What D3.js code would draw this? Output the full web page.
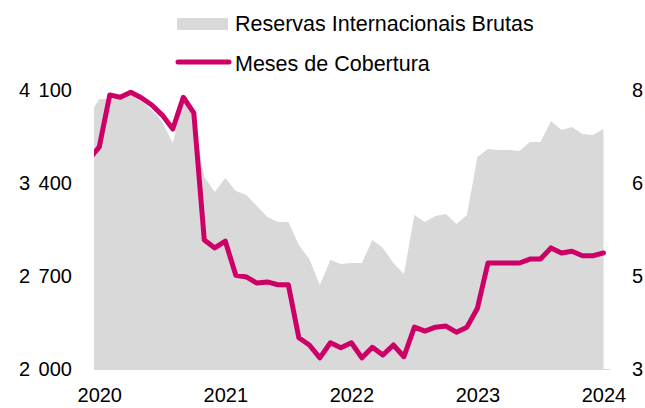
<!DOCTYPE html>
<html>
<head>
<meta charset="utf-8">
<script src="https://cdn.jsdelivr.net/npm/d3@7"></script>
<style>
  html, body { margin: 0; padding: 0; background: #fff; }
  svg { display: block; }
  text { font-family: "Liberation Sans", Arial, sans-serif; fill: #000; }
</style>
</head>
<body>
<div id="chart"></div>
<script>
// Months: Dec 2019 (partly clipped) through Jan 2024
const months = d3.timeMonth.range(new Date(2019, 11, 1), new Date(2024, 1, 1)).map(d3.timeFormat("%Y-%m"));

// Reservas Internacionais Brutas (left axis)
const reservas = [3904, 4032, 4032, 4030, 4062, 4017, 3950, 3859, 3701, 4025, 3889,
  3445, 3332, 3438, 3340, 3310, 3227, 3144, 3106, 3106, 2933, 2828, 2632,
  2820, 2790, 2798, 2798, 2971, 2911, 2798, 2715, 3159, 3106, 3152, 3167, 3091, 3159,
  3596, 3656, 3648, 3648, 3641, 3709, 3709, 3867, 3799, 3822, 3769, 3761, 3806];

// Meses de Cobertura (right axis)
const cobertura = [6.75, 6.98, 7.91, 7.87, 7.96, 7.86, 7.73, 7.55, 7.30, 7.87, 7.59,
  5.31, 5.17, 5.29, 4.68, 4.65, 4.54, 4.56, 4.51, 4.51, 3.56, 3.43, 3.20,
  3.47, 3.38, 3.47, 3.20, 3.39, 3.25, 3.43, 3.22, 3.75, 3.68, 3.75, 3.77, 3.66, 3.75,
  4.09, 4.90, 4.90, 4.90, 4.90, 4.97, 4.97, 5.17, 5.08, 5.11, 5.03, 5.03, 5.08];

const yearLabels = ["2020", "2021", "2022", "2023", "2024"];
const yearMonths = ["2020-01", "2021-01", "2022-01", "2023-01", "2024-01"];
const leftTicks = [2000, 2700, 3400, 4100];
const leftTickLabels = ["2 000", "2 700", "3 400", "4 100"];
const rightTicks = [3, 14 / 3, 19 / 3, 8];
const rightTickLabels = ["3", "5", "6", "8"];
const seriesNames = ["Reservas Internacionais Brutas", "Meses de Cobertura"];

const W = 645, H = 408;
const svg = d3.select("#chart").append("svg").attr("width", W).attr("height", H);

const idx = m => months.indexOf(m) - 1; // Jan 2020 -> 0
const x = d3.scaleLinear().domain([-0.5, 48]).range([94, 603.5]);
const yL = d3.scaleLinear().domain([2000, 4100]).range([369, 90]);
const yR = d3.scaleLinear().domain([3, 8]).range([369, 90]);

svg.append("defs").append("clipPath").attr("id", "clip")
  .append("rect").attr("x", 94).attr("y", 0).attr("width", 560).attr("height", 380);

const data = months.map((m, i) => ({ i: i - 1, r: reservas[i], c: cobertura[i] }));

const plot = svg.append("g").attr("clip-path", "url(#clip)");

plot.append("path").datum(data)
  .attr("fill", "#d9d9d9")
  .attr("d", d3.area().x(d => x(d.i)).y0(yL(2000)).y1(d => yL(d.r)));

svg.append("line")
  .attr("x1", 94).attr("x2", 610).attr("y1", 369.5).attr("y2", 369.5)
  .attr("stroke", "#d9d9d9").attr("stroke-width", 1);

plot.append("path").datum(data)
  .attr("fill", "none")
  .attr("stroke", "#cc0066")
  .attr("stroke-width", 5)
  .attr("stroke-linejoin", "round")
  .attr("stroke-linecap", "round")
  .attr("d", d3.line().x(d => x(d.i)).y(d => yR(d.c)));

// Axes
const axL = svg.append("g").attr("transform", "translate(80,0)")
  .call(d3.axisLeft(yL).tickValues(leftTicks).tickSize(0).tickPadding(8)
    .tickFormat((d, i) => leftTickLabels[i]));
const axR = svg.append("g").attr("transform", "translate(624,0)")
  .call(d3.axisRight(yR).tickValues(rightTicks).tickSize(0).tickPadding(8)
    .tickFormat((d, i) => rightTickLabels[i]));
const axB = svg.append("g").attr("transform", "translate(0,380)")
  .call(d3.axisBottom(x).tickValues(yearMonths.map(idx)).tickSize(0).tickPadding(0)
    .tickFormat((d, i) => yearLabels[i]));

[axL, axR, axB].forEach(a => {
  a.select(".domain").remove();
  a.selectAll("text").attr("font-size", 20).attr("font-family", "Liberation Sans, Arial, sans-serif").attr("fill", "#000");
});
axL.selectAll("text").style("word-spacing", "3px");
axB.selectAll("text").attr("dy", "0.71em").attr("y", 8);

// Legend
const lg = svg.append("g");
lg.append("rect").attr("x", 177).attr("y", 18).attr("width", 51).attr("height", 12).attr("fill", "#d9d9d9");
lg.append("text").attr("x", 235).attr("y", 31).attr("font-size", 21.5).text(seriesNames[0]);
lg.append("line").attr("x1", 178).attr("x2", 229).attr("y1", 62).attr("y2", 62)
  .attr("stroke", "#cc0066").attr("stroke-width", 5).attr("stroke-linecap", "round");
lg.append("text").attr("x", 235).attr("y", 70.5).attr("font-size", 21.5).text(seriesNames[1]);
</script>
</body>
</html>
